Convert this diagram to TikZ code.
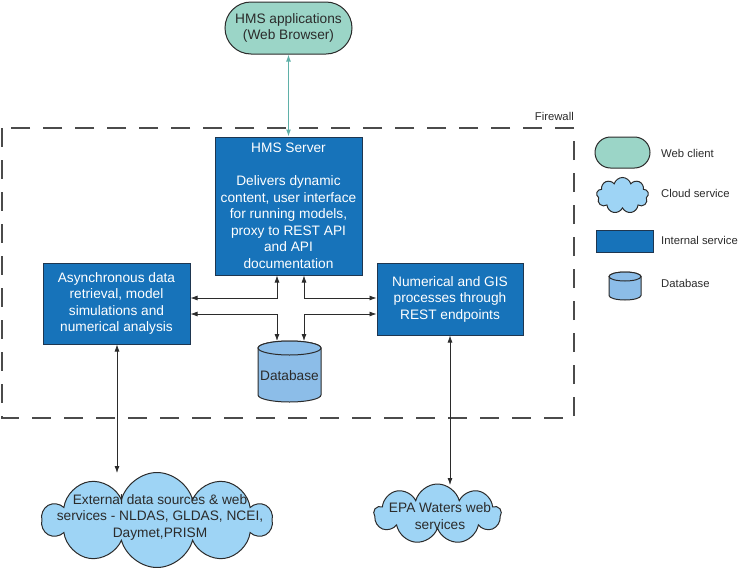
\documentclass[tikz,border=0pt]{standalone}
\usepackage{fontspec}
\setmainfont{Liberation Sans}
\usetikzlibrary{shapes.symbols,shapes.misc,arrows.meta}
\definecolor{tealfill}{HTML}{9BD5C7}
\definecolor{tealline}{HTML}{5FB0A8}
\definecolor{svcblue}{HTML}{1773BA}
\definecolor{svcborder}{HTML}{1E3650}
\definecolor{cloudfill}{HTML}{9ED4F5}
\definecolor{dbblue}{HTML}{8CBDE8}
\definecolor{edge}{HTML}{2B2B2B}
\newcommand{\mycyl}[5]{%
  \path[dbshape] (#1,#2+#5) -- (#1,#4-#5)
     arc[start angle=180,end angle=0,x radius={(#3-#1)/2},y radius=#5]
     -- (#3,#2+#5)
     arc[start angle=0,end angle=-180,x radius={(#3-#1)/2},y radius=#5] -- cycle;
  \path[dbshape] ({(#1+#3)/2},#2+#5) ellipse[x radius={(#3-#1)/2},y radius=#5];
}
\begin{document}
\begin{tikzpicture}[x=1pt,y=-1pt,
  txt/.style={font=\fontsize{13.7}{16.5}\selectfont, align=center, inner sep=0pt},
  svc/.style={txt, rectangle, draw=svcborder, fill=svcblue, text=white, line width=1pt},
  client/.style={txt, rounded rectangle, draw=edge, fill=tealfill, line width=1pt, text=edge},
  cloudsh/.style={cloud, cloud puffs=11, draw=edge, fill=cloudfill, line width=1pt, inner sep=0pt},
  dbshape/.style={draw=edge, fill=dbblue, line width=1pt},
  legtxt/.style={font=\fontsize{11.3}{13.5}\selectfont, anchor=west, inner sep=0pt, text=edge},
  conn/.style={draw=edge, line width=0.8pt, {Latex[length=7pt,width=5pt]}-{Latex[length=7pt,width=5pt]}},
  tconn/.style={draw=tealline, line width=1.2pt, {Latex[length=7pt,width=5pt]}-{Latex[length=7pt,width=5pt]}},
  firewall/.style={draw=edge!85, line width=1.2pt, dash pattern=on 19pt off 13pt}
]
\useasboundingbox (0,0) rectangle (740,568);

% firewall
\draw[firewall] (2,128) rectangle (574,418);
\node[legtxt, anchor=east] (fwlabel) at (574,116) {Firewall};

% web client
\node[client, minimum width=127, minimum height=52] (app) at (288.5,28) {HMS applications\\(Web Browser)};

% services
\node[svc, minimum width=147, minimum height=138] (hms) at (288.5,206)
  {HMS Server\\[16.5pt]Delivers dynamic\\content, user interface\\for running models,\\proxy to REST API\\and API\\documentation};
\node[svc, minimum width=147, minimum height=81] (async) at (116.5,303.5)
  {Asynchronous data\\retrieval, model\\simulations and\\numerical analysis};
\node[svc, minimum width=146, minimum height=72] (gis) at (450,299)
  {Numerical and GIS\\processes through\\REST endpoints};

% database
\mycyl{258}{341}{321}{402}{7}
\node[txt, minimum width=63, minimum height=54, text=edge] (db) at (289.5,376) {Database};

% clouds
\node[cloudsh, minimum width=229, minimum height=95, cloud puffs=10, aspect=2.4] (ext) at (157,520) {};
\node[txt, text=edge] (extlabel) at (160,517) {External data sources \& web\\services - NLDAS, GLDAS, NCEI,\\Daymet,PRISM};
\node[cloudsh, minimum width=127, minimum height=60, cloud puffs=9, aspect=2.1] (epa) at (437.5,514) {};
\node[txt, text=edge] (epalabel) at (440,516) {EPA Waters web\\services};

% connectors
\coordinate (ja) at (277,298);
\coordinate (jb) at (304,298);
\coordinate (jc) at (277,314);
\coordinate (jd) at (304,314);
\draw[tconn] (app.south) -- (hms.north);
\draw[conn] (async.east |- ja) -- (ja) -- (hms.south -| ja);
\draw[conn] (hms.south -| jb) -- (jb) -- (gis.west |- jb);
\draw[conn] (async.east |- jc) -- (jc) -- (277,341);
\draw[conn] (304,341) -- (jd) -- (gis.west |- jd);
\draw[conn] (async.south -| 117,0) -- (117,473);
\draw[conn] (gis.south) -- (450,485);

% legend
\node[client, minimum width=55, minimum height=31] (lclient) at (622.5,152.5) {};
\node[legtxt] (lclienttxt) at (661,153) {Web client};
\node[cloudsh, minimum width=52, minimum height=36, cloud puffs=9, aspect=1.5] (lcloud) at (622.5,195.5) {};
\node[legtxt] (lcloudtxt) at (661,193) {Cloud service};
\node[svc, minimum width=57, minimum height=22] (lsvc) at (624.5,241) {};
\node[legtxt] (lsvctxt) at (661,240) {Internal service};
\mycyl{609}{272}{641}{300}{4.5}
\node[legtxt] (ldbtxt) at (661,283) {Database};
\end{tikzpicture}
\end{document}
